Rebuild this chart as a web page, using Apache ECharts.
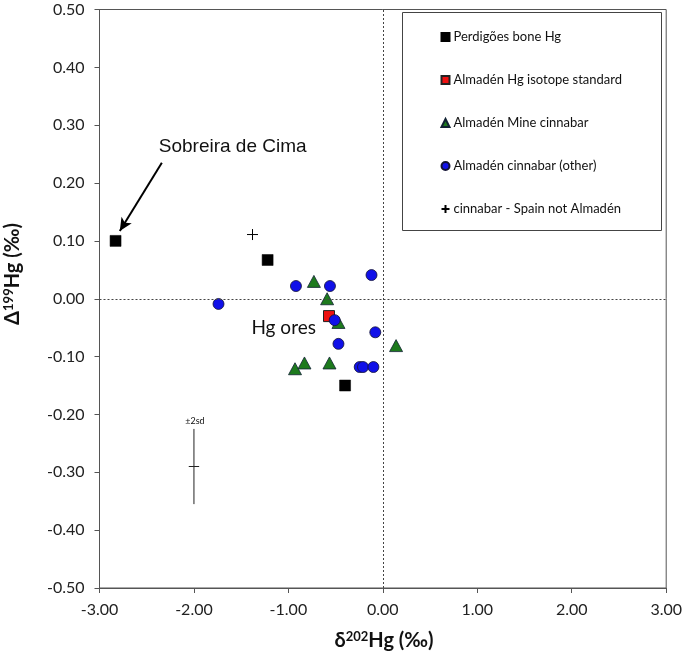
<!DOCTYPE html>
<html><head><meta charset="utf-8">
<script src="https://cdn.jsdelivr.net/npm/echarts@6/dist/echarts.min.js"></script>
<style>html,body{margin:0;padding:0;background:#fff}#c{width:685px;height:663px}</style>
</head><body><div id="c"></div>
<script>
// ---- data ----
const seriesNames = ['Perdigões bone Hg','Almadén Hg isotope standard','Almadén Mine cinnabar','Almadén cinnabar (other)','cinnabar - Spain not Almadén'];
const boneHg = [[-2.83,0.10],[-1.22,0.067],[-0.40,-0.15]];
const almStandard = [[-0.57,-0.03]];
const mineCinnabar = [[-0.73,0.030],[-0.59,0.0],[-0.47,-0.041],[0.14,-0.081],[-0.93,-0.121],[-0.83,-0.111],[-0.565,-0.111]];
const otherCinnabar = [[-1.74,-0.009],[-0.92,0.022],[-0.56,0.022],[-0.12,0.041],[-0.51,-0.037],[-0.08,-0.058],[-0.47,-0.078],[-0.245,-0.118],[-0.21,-0.118],[-0.10,-0.118]];
const spainNotAlm = [[-1.38,0.111]];
const errCenter = [-2.0,-0.29];
const err2sd = [0.055,0.065]; // x, y half-widths
const xMin=-3, xMax=3, xStep=1;
const yMin=-0.5, yMax=0.5, yStep=0.1;
const annotations = [{name:'Sobreira de Cima', value:[-1.59,0.262]},{name:'Hg ores', value:[-1.05,-0.05]}];
const arrowFrom = [-2.34,0.235], arrowTo = [-2.785,0.117];
const errLabel = '±2sd';

const chart = echarts.init(document.getElementById('c'));
const F = 'Lato';
const plusPath = 'path://M0,5 L10,5 M5,0 L5,10';

chart.setOption({
  animation:false,
  backgroundColor:'#fff',
  grid:{left:99.5,right:16,top:9.5,bottom:75,show:true,borderColor:'#555',borderWidth:1,backgroundColor:'transparent'},
  xAxis:{type:'value',min:xMin,max:xMax,interval:xStep,
    axisLine:{show:true,onZero:false,lineStyle:{color:'#555'}},
    axisTick:{show:true,length:5,lineStyle:{color:'#555'}},
    axisLabel:{margin:14,fontFamily:F,fontSize:16,color:'#222',formatter:v=>v.toFixed(2)},
    splitLine:{show:false}},
  yAxis:{type:'value',min:yMin,max:yMax,interval:yStep,
    axisLine:{show:true,onZero:false,lineStyle:{color:'#555'}},
    axisTick:{show:true,length:5,lineStyle:{color:'#555'}},
    axisLabel:{margin:15,fontFamily:F,fontSize:16,color:'#222',formatter:v=>v.toFixed(2)},
    splitLine:{show:false}},
  legend:{orient:'vertical',left:434,top:25,itemWidth:8,itemHeight:8,itemGap:29,
    textStyle:{fontFamily:F,fontSize:13,color:'#111',lineHeight:14,padding:[0,0,0,-1]},
    data:seriesNames},
  graphic:[
    {type:'rect',shape:{x:402.5,y:12.5,width:259,height:218},style:{fill:'none',stroke:'#444',lineWidth:1},z:5},
    {type:'text',x:384,y:641,style:{text:'{a|δ}{s|202}{a|Hg (‰)}',align:'center',verticalAlign:'middle',
      rich:{a:{fontFamily:F,fontSize:20,fontWeight:'bold',fill:'#111'},s:{fontFamily:F,fontSize:13,fontWeight:'bold',fill:'#111',verticalAlign:'top',padding:[0,0,8,0]}}}},
    {type:'text',x:13,y:274,rotation:Math.PI/2,style:{text:'{a|Δ}{s|199}{a|Hg (‰)}',align:'center',verticalAlign:'middle',
      rich:{a:{fontFamily:F,fontSize:20,fontWeight:'bold',fill:'#111'},s:{fontFamily:F,fontSize:13,fontWeight:'bold',fill:'#111',verticalAlign:'top',padding:[0,0,8,0]}}}}
  ],
  series:[
    {name:seriesNames[0],type:'scatter',data:boneHg,symbol:'rect',symbolSize:11,itemStyle:{opacity:1,color:'#000',borderColor:'#000',borderWidth:0.5},z:3,
      markLine:{silent:true,symbol:['none','arrow'],symbolSize:[9,13],lineStyle:{color:'#000',width:2,type:'solid'},label:{show:false},
        data:[[{coord:arrowFrom},{coord:arrowTo}]]}},
    {name:seriesNames[1],type:'scatter',data:almStandard,symbol:'rect',symbolSize:11,itemStyle:{opacity:1,color:'#ee1111',borderColor:'#222',borderWidth:1},z:3},
    {name:seriesNames[2],type:'scatter',data:mineCinnabar,symbol:'triangle',symbolSize:[13,12],itemStyle:{opacity:1,color:'#1d7a1d',borderColor:'#123',borderWidth:0.8},z:3},
    {name:seriesNames[3],type:'scatter',data:otherCinnabar,symbol:'circle',symbolSize:11,itemStyle:{opacity:1,color:'#1010e8',borderColor:'#113',borderWidth:0.8},z:4},
    {name:seriesNames[4],type:'scatter',data:spainNotAlm,symbol:plusPath,symbolSize:11,itemStyle:{opacity:1,color:'none',borderColor:'#000',borderWidth:1},z:3},
    {type:'scatter',symbolSize:0,silent:true,itemStyle:{opacity:1},
      data:[
        {name:annotations[0].name,value:annotations[0].value,label:{fontFamily:'Liberation Sans',fontSize:19}},
        {name:annotations[1].name,value:annotations[1].value,label:{fontFamily:F,fontSize:19}},
        {name:errLabel,value:[errCenter[0],errCenter[1]+err2sd[1]],label:{fontFamily:F,fontSize:9,offset:[1,-8]}}
      ],
      label:{show:true,position:'inside',formatter:p=>p.name,color:'#111'},
      markLine:{silent:true,symbol:'none',lineStyle:{color:'#444',width:1,type:[2,2]},label:{show:false},
        data:[{xAxis:0},{yAxis:0}]}},
    {type:'line',data:[[errCenter[0],errCenter[1]-err2sd[1]],[errCenter[0],errCenter[1]+err2sd[1]]],symbol:'none',lineStyle:{color:'#222',width:1},silent:true},
    {type:'line',data:[[errCenter[0]-err2sd[0],errCenter[1]],[errCenter[0]+err2sd[0],errCenter[1]]],symbol:'none',lineStyle:{color:'#222',width:1},silent:true}
  ]
});
</script></body></html>
